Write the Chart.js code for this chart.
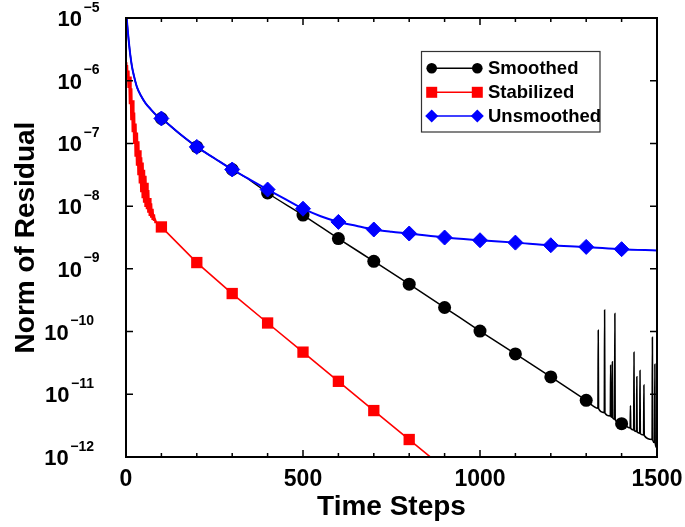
<!DOCTYPE html>
<html><head><meta charset="utf-8">
<script src="https://cdn.jsdelivr.net/npm/chart.js@4"></script>
<style>html,body{margin:0;padding:0;background:#fff}</style>
</head><body>
<canvas id="c" width="685" height="527"></canvas>
<script>
const seriesNames = ['Smoothed', 'Stabilized', 'Unsmoothed'];

const smoothedSteps = [0, 3, 8, 12, 17, 24, 31, 42, 55, 70, 85, 100, 150, 200, 250, 300, 350, 400, 500, 600, 700, 800, 900, 1000, 1100, 1200, 1300, 1333, 1334, 1335, 1351, 1352, 1353, 1368, 1369, 1370, 1373, 1374, 1375, 1380, 1381, 1382, 1400, 1424, 1425, 1426, 1434, 1435, 1436, 1442, 1443, 1444, 1451, 1452, 1453, 1462, 1463, 1464, 1486, 1487, 1488, 1493, 1494, 1495, 1500];
const smoothedResid = [1.6e-5, 8.5e-6, 4.2e-6, 2.6e-6, 1.66e-6, 1.1e-6, 7.9e-7, 5.8e-7, 4.4e-7, 3.5e-7, 2.85e-7, 2.5e-7, 1.45e-7, 8.8e-8, 5.8e-8, 3.84e-8, 2.6e-8, 1.62e-8, 7.2e-9, 3.04e-9, 1.32e-9, 5.7e-10, 2.42e-10, 1.02e-10, 4.4e-11, 1.89e-11, 8.0e-12, 6.0e-12, 1.05e-10, 5.9e-12, 5.1e-12, 2.2e-10, 5.0e-12, 4.5e-12, 2.9e-11, 4.4e-12, 4.3e-12, 3.3e-11, 4.2e-12, 4.0e-12, 1.95e-10, 3.9e-12, 3.4e-12, 2.9e-12, 6.6e-12, 2.85e-12, 2.7e-12, 4.7e-11, 2.65e-12, 2.55e-12, 1.9e-11, 2.5e-12, 2.4e-12, 2.4e-11, 2.35e-12, 2.25e-12, 1.4e-11, 2.2e-12, 1.9e-12, 8.1e-11, 1.85e-12, 1.7e-12, 3.0e-11, 1.65e-12, 1.4e-12];

const stabilizedSteps = [0, 2, 4, 6, 8, 10, 12, 14, 16, 18, 20, 22, 24, 26, 28, 30, 32, 34, 36, 38, 40, 42, 44, 46, 48, 50, 52, 54, 56, 58, 60, 62, 64, 66, 68, 70, 72, 74, 76, 78, 80, 82, 84, 86, 100, 200, 300, 400, 500, 600, 700, 800, 900];
const stabilizedResid = [1.97e-6, 1.29e-6, 1.78e-6, 7.9e-7, 1.45e-6, 4.2e-7, 1.17e-6, 2.35e-7, 7.6e-7, 1.51e-7, 4.9e-7, 9.8e-8, 3.1e-7, 6.3e-8, 2.07e-7, 4.4e-8, 1.49e-7, 3.2e-8, 1.08e-7, 2.3e-8, 7.8e-8, 1.66e-8, 6.0e-8, 1.37e-8, 4.95e-8, 1.13e-8, 3.8e-8, 1.0e-8, 3.05e-8, 8.9e-9, 2.35e-8, 7.85e-9, 1.81e-8, 6.95e-9, 1.35e-8, 6.55e-9, 1.11e-8, 6.2e-9, 9.05e-9, 5.8e-9, 7.4e-9, 5.5e-9, 5.9e-9, 5.5e-9, 4.66e-9, 1.26e-9, 4.04e-10, 1.37e-10, 4.7e-11, 1.61e-11, 5.5e-12, 1.9e-12, 6.5e-13];

const unsmoothedSteps = [0, 3, 8, 12, 17, 24, 31, 42, 55, 70, 85, 100, 150, 200, 250, 300, 350, 400, 450, 500, 550, 600, 650, 700, 750, 800, 900, 1000, 1100, 1200, 1300, 1400, 1500];
const unsmoothedResid = [1.6e-5, 8.5e-6, 4.2e-6, 2.6e-6, 1.66e-6, 1.1e-6, 7.9e-7, 5.8e-7, 4.4e-7, 3.5e-7, 2.85e-7, 2.5e-7, 1.45e-7, 8.8e-8, 5.8e-8, 3.84e-8, 2.65e-8, 1.84e-8, 1.29e-8, 9.1e-9, 6.9e-9, 5.6e-9, 4.85e-9, 4.24e-9, 3.9e-9, 3.66e-9, 3.16e-9, 2.86e-9, 2.62e-9, 2.38e-9, 2.24e-9, 2.06e-9, 1.97e-9];

const markerSteps = [100, 200, 300, 400, 500, 600, 700, 800, 900, 1000, 1100, 1200, 1300, 1400];
const xTickValues = [0, 100, 200, 300, 400, 500, 600, 700, 800, 900, 1000, 1100, 1200, 1300, 1400, 1500];
const xTickLabels = [0, 500, 1000, 1500];
const yTickValues = [1e-12, 1e-11, 1e-10, 1e-9, 1e-8, 1e-7, 1e-6, 1e-5];

const FONT = '"Liberation Sans", Arial, Helvetica, sans-serif';
const toPts = (xs, ys) => xs.map((x, i) => ({x: x, y: ys[i]}));
const markerRadius = r => (c) => (c.raw && markerSteps.includes(c.raw.x)) ? r : 0;

const framePlugin = {
  id: 'frameTicks',
  afterDraw(chart) {
    const {ctx, chartArea: a, scales} = chart;
    const x = scales.x, y = scales.y;
    ctx.save();
    ctx.strokeStyle = '#000';
    ctx.lineWidth = 2;
    ctx.strokeRect(a.left, a.top, a.right - a.left, a.bottom - a.top);
    ctx.lineWidth = 1.5;
    ctx.beginPath();
    x.ticks.forEach(t => {
      const px = x.getPixelForValue(t.value);
      const len = xTickLabels.includes(t.value) ? 7 : 4;
      ctx.moveTo(px, a.bottom); ctx.lineTo(px, a.bottom - len);
      ctx.moveTo(px, a.top); ctx.lineTo(px, a.top + len);
    });
    y.ticks.forEach(t => {
      const py = y.getPixelForValue(t.value);
      ctx.moveTo(a.left, py); ctx.lineTo(a.left + 7, py);
      ctx.moveTo(a.right, py); ctx.lineTo(a.right - 7, py);
    });
    ctx.stroke();
    ctx.fillStyle = '#000';
    ctx.textAlign = 'left';
    ctx.textBaseline = 'alphabetic';
    y.ticks.forEach(t => {
      const py = y.getPixelForValue(t.value);
      const e = Math.round(Math.log10(t.value));
      const expStr = (e < 0 ? '\u2212' : '') + Math.abs(e);
      ctx.font = 'bold 14px ' + FONT;
      const ew = ctx.measureText(expStr).width;
      const right = Math.abs(e) >= 10 ? 94 : 99.5;
      const ex = right - ew;
      ctx.fillText(expStr, ex, py - 6.5);
      ctx.font = 'bold 22px ' + FONT;
      const bw = ctx.measureText('10').width;
      ctx.fillText('10', ex - 1.5 - bw, py + 8);
    });
    ctx.restore();
  }
};

const legendPlugin = {
  id: 'customLegend',
  afterDraw(chart) {
    const ctx = chart.ctx;
    ctx.save();
    ctx.strokeStyle = '#333';
    ctx.lineWidth = 1.2;
    ctx.strokeRect(421.5, 51.5, 178.5, 80.5);
    const rows = [68.3, 92.3, 116];
    const x1 = 431.7, x2 = 477.3;
    chart.data.datasets.forEach((ds, i) => {
      const yy = rows[i];
      ctx.strokeStyle = ds.borderColor;
      ctx.fillStyle = ds.borderColor;
      ctx.lineWidth = 1.5;
      ctx.beginPath(); ctx.moveTo(x1, yy); ctx.lineTo(x2, yy); ctx.stroke();
      [x1, x2].forEach(px => {
        ctx.beginPath();
        if (ds.pointStyle === 'circle') {
          ctx.arc(px, yy, 5.3, 0, Math.PI * 2);
        } else if (ds.pointStyle === 'rect') {
          ctx.rect(px - 5.5, yy - 5.5, 11, 11);
        } else {
          ctx.moveTo(px - 6.5, yy); ctx.lineTo(px, yy - 6.5); ctx.lineTo(px + 6.5, yy); ctx.lineTo(px, yy + 6.5); ctx.closePath();
        }
        ctx.fill();
      });
      ctx.fillStyle = '#000';
      ctx.font = 'bold 18.5px ' + FONT;
      ctx.textBaseline = 'middle';
      ctx.textAlign = 'left';
      ctx.fillText(ds.label, 488, yy + 0.5);
    });
    ctx.restore();
  }
};

new Chart(document.getElementById('c'), {
  type: 'line',
  data: {
    datasets: [
      {
        label: seriesNames[0], data: toPts(smoothedSteps, smoothedResid),
        borderColor: '#000000', backgroundColor: '#000000', borderWidth: 1.5,
        pointStyle: 'circle', pointRadius: markerRadius(6.5), pointHoverRadius: markerRadius(6.5),
        pointBackgroundColor: '#000000', pointBorderColor: '#000000', pointBorderWidth: 0,
        cubicInterpolationMode: 'monotone', order: 1, clip: 0
      },
      {
        label: seriesNames[1], data: toPts(stabilizedSteps, stabilizedResid),
        borderColor: '#ff0000', backgroundColor: '#ff0000', borderWidth: 1.6,
        pointStyle: 'rect', pointRadius: markerRadius(8), pointHoverRadius: markerRadius(8),
        pointBackgroundColor: '#ff0000', pointBorderColor: '#ff0000', pointBorderWidth: 0,
        tension: 0, order: 2, clip: 0
      },
      {
        label: seriesNames[2], data: toPts(unsmoothedSteps, unsmoothedResid),
        borderColor: '#0000ff', backgroundColor: '#0000ff', borderWidth: 2,
        pointStyle: 'rectRot', pointRadius: markerRadius(7.5), pointHoverRadius: markerRadius(7.5),
        pointBackgroundColor: '#0000ff', pointBorderColor: '#0000ff', pointBorderWidth: 1,
        cubicInterpolationMode: 'monotone', order: 0, clip: 0
      }
    ]
  },
  options: {
    responsive: false,
    devicePixelRatio: 1,
    animation: false,
    events: [],
    layout: {padding: {left: 0, right: 28, top: 18, bottom: 0}},
    plugins: {legend: {display: false}, tooltip: {enabled: false}, title: {display: false}},
    scales: {
      x: {
        type: 'linear', min: 0, max: 1500,
        afterBuildTicks: s => { s.ticks = xTickValues.map(v => ({value: v})); },
        afterFit: s => { s.height = 70; s.paddingRight = 0; s.paddingLeft = 0; },
        grid: {display: false}, border: {display: false},
        ticks: {
          autoSkip: false, maxRotation: 0, padding: 1, color: '#000',
          font: {family: FONT, size: 23, weight: 'bold'},
          callback: v => xTickLabels.includes(v) ? String(v) : ''
        },
        title: {display: true, text: 'Time Steps', color: '#000',
          font: {family: FONT, size: 28, weight: 'bold'}, padding: {top: 0, bottom: 3}}
      },
      y: {
        type: 'logarithmic', min: 1e-12, max: 1e-5,
        afterBuildTicks: s => { s.ticks = yTickValues.map(v => ({value: v})); },
        afterFit: s => { s.width = 126; },
        grid: {display: false}, border: {display: false},
        ticks: {display: false},
        title: {display: true, text: 'Norm of Residual', color: '#000',
          font: {family: FONT, size: 28, weight: 'bold'}, padding: {top: 9, bottom: 0}}
      }
    }
  },
  plugins: [framePlugin, legendPlugin]
});
</script>
</body></html>
